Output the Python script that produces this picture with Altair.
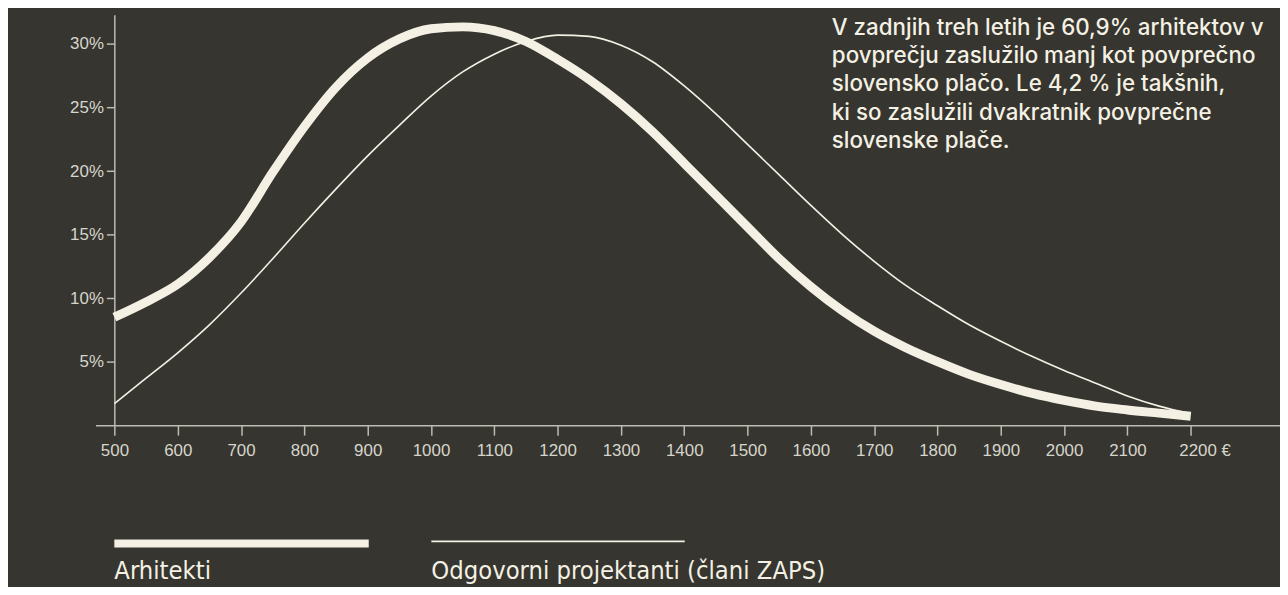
import altair as alt
import pandas as pd

# ---- data ----
euro = [500, 550, 600, 650, 700, 750, 800, 850, 900, 950, 1000, 1050, 1100, 1150,
        1200, 1250, 1300, 1350, 1400, 1450, 1500, 1550, 1600, 1650, 1700, 1750,
        1800, 1850, 1900, 1950, 2000, 2050, 2100, 2150, 2200]
arhitekti = [8.5, 9.7, 11.1, 13.2, 16.0, 19.9, 23.5, 26.6, 28.9, 30.4, 31.2, 31.35,
             31.05, 30.2, 28.8, 27.2, 25.3, 23.1, 20.6, 18.1, 15.6, 13.1, 10.9, 9.0,
             7.4, 6.1, 5.0, 4.0, 3.2, 2.5, 1.95, 1.5, 1.2, 0.95, 0.7]
projektanti = [1.7, 3.7, 5.7, 7.9, 10.4, 13.1, 15.9, 18.6, 21.2, 23.6, 25.9, 27.8,
               29.2, 30.2, 30.7, 30.6, 29.9, 28.6, 26.7, 24.5, 22.1, 19.7, 17.3,
               15.0, 12.9, 11.0, 9.4, 7.9, 6.6, 5.4, 4.3, 3.3, 2.3, 1.5, 0.9]
series_names = ["Arhitekti", "Odgovorni projektanti (člani ZAPS)"]
x_ticks = list(range(500, 2201, 100))
y_ticks = [5, 10, 15, 20, 25, 30]
note_lines = [
    "V zadnjih treh letih je 60,9% arhitektov v",
    "povprečju zaslužilo manj kot povprečno",
    "slovensko plačo. Le 4,2 % je takšnih,",
    "ki so zaslužili dvakratnik povprečne",
    "slovenske plače.",
]

BG = "#36352f"
CREAM = "#f4f1e4"
AXIS = "#bdbcb3"
LABEL = "#d6d5cc"

rows = []
for e, a, p in zip(euro, arhitekti, projektanti):
    rows.append({"placa": e, "delez": a, "skupina": series_names[0]})
    rows.append({"placa": e, "delez": p, "skupina": series_names[1]})
df = pd.DataFrame(rows)

x_enc = alt.X(
    "placa:Q",
    scale=alt.Scale(domain=[470, 2341], nice=False, zero=False),
    axis=alt.Axis(
        values=x_ticks, title=None, grid=False, format="d",
        domainColor=AXIS, domainWidth=1.5, tickColor=AXIS, tickWidth=1.5, tickSize=10,
        labelColor=LABEL, labelFont="Liberation Sans", labelFontSize=17,
        labelPadding=7, labelFlush=False, labelOverlap=False,
        labelExpr="datum.value == 2200 ? '2200 €' : datum.label",
        labelAlign={"condition": {"test": "datum.value == 2200", "value": "left"}, "value": "center"},
        labelOffset={"condition": {"test": "datum.value == 2200", "value": -12}, "value": 0},
    ),
)
y_enc = alt.Y(
    "delez:Q",
    scale=alt.Scale(domain=[0, 32.3], nice=False, zero=True),
    axis=alt.Axis(
        values=y_ticks, title=None, grid=False, offset=-19,
        labelExpr="datum.value + '%'",
        domainColor=AXIS, domainWidth=1.5, tickColor=AXIS, tickWidth=1.5, tickSize=8,
        labelColor=LABEL, labelFont="Liberation Sans", labelFontSize=17,
        labelPadding=3,
    ),
)

lines = alt.Chart(df).mark_line(interpolate="monotone", color=CREAM, strokeCap="butt").encode(
    x=x_enc,
    y=y_enc,
    detail="skupina:N",
    strokeWidth=alt.StrokeWidth("skupina:N", scale=alt.Scale(domain=series_names, range=[9, 1.6]), legend=None),
)

leg_df = pd.DataFrame({"t": series_names})
leg_thick = alt.Chart(leg_df).transform_filter(alt.datum.t == series_names[0]).mark_rule(
    color=CREAM, strokeWidth=8).encode(x=alt.value(19), x2=alt.value(275), y=alt.value(532))
leg_thin = alt.Chart(leg_df).transform_filter(alt.datum.t == series_names[1]).mark_rule(
    color=CREAM, strokeWidth=1.8).encode(x=alt.value(338), x2=alt.value(593), y=alt.value(530))
LEG_FONT = "DejaVu Sans Condensed, Liberation Sans Narrow, Roboto"
leg_text1 = alt.Chart(leg_df).transform_filter(alt.datum.t == series_names[0]).mark_text(
    align="left", baseline="alphabetic", font=LEG_FONT, fontSize=25.5, color=CREAM).encode(
    text="t:N", x=alt.value(19), y=alt.value(568))
leg_text2 = alt.Chart(leg_df).transform_filter(alt.datum.t == series_names[1]).mark_text(
    align="left", baseline="alphabetic", font=LEG_FONT, fontSize=25.5, color=CREAM).encode(
    text="t:N", x=alt.value(338), y=alt.value(568))

note = alt.Chart(pd.DataFrame({"n": [0]})).mark_text(
    text=note_lines, align="left", baseline="alphabetic", font="Inter", fontSize=22.5,
    fontWeight=500, lineHeight=28.5, color=CREAM).encode(x=alt.value(741), y=alt.value(20))

chart = alt.layer(lines, leg_thick, leg_thin, leg_text1, leg_text2, note).properties(
    width=1192, height=413,
    autosize=alt.AutoSizeParams(type="none"),
    padding={"left": 88, "top": 5, "right": 0, "bottom": 161},
    background=BG,
).configure_view(stroke=None)

chart.save("out.html", embed_options={"renderer": "svg", "actions": False})
